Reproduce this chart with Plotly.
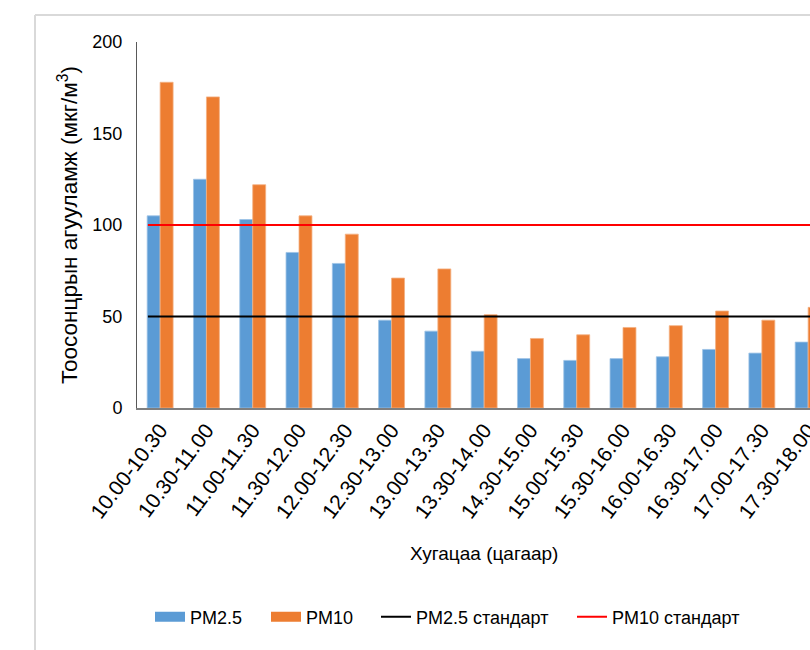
import plotly.graph_objects as go

categories = ["10.00-10.30", "10.30-11.00", "11.00-11.30", "11.30-12.00", "12.00-12.30",
              "12.30-13.00", "13.00-13.30", "13.30-14.00", "14.30-15.00", "15.00-15.30",
              "15.30-16.00", "16.00-16.30", "16.30-17.00", "17.00-17.30", "17.30-18.00"]
pm25 = [105, 125, 103, 85, 79, 48, 42, 31, 27, 26, 27, 28, 32, 30, 36]
pm10 = [178, 170, 122, 105, 95, 71, 76, 51, 38, 40, 44, 45, 53, 48, 55]
pm25_std = [50] * len(categories)
pm10_std = [100] * len(categories)

W, H = 810, 650
L, R, T, B = 137, 0, 42, 242
pw = W - L - R
ph = H - T - B

def px(xp):
    return (xp - L) / pw

def py(yp):
    return (H - B - yp) / ph

FONT = "Liberation Sans, Arial, sans-serif"
BLUE, ORANGE = "#5B9BD5", "#ED7D31"

fig = go.Figure()
fig.add_trace(go.Bar(x=categories, y=pm25, name="PM2.5", marker_color=BLUE,
                     marker_line_color="#9DC3E6", marker_line_width=0.8, showlegend=False))
fig.add_trace(go.Bar(x=categories, y=pm10, name="PM10", marker_color=ORANGE,
                     marker_line_color="#F4B183", marker_line_width=0.8, showlegend=False))
# legend entries for the bar series (wide swatches as in the original)
fig.add_trace(go.Scatter(x=[None], y=[None], name="PM2.5", mode="lines",
                         line=dict(color=BLUE, width=10), legend="legend"))
fig.add_trace(go.Scatter(x=[None], y=[None], name="PM10", mode="lines",
                         line=dict(color=ORANGE, width=10), legend="legend2"))
fig.add_trace(go.Scatter(x=list(range(len(categories))), y=pm25_std, name="PM2.5 стандарт",
                         mode="lines", line=dict(color="black", width=2), xaxis="x2",
                         legend="legend3"))
fig.add_trace(go.Scatter(x=list(range(len(categories))), y=pm10_std, name="PM10 стандарт",
                         mode="lines", line=dict(color="#FF0000", width=2), xaxis="x2",
                         legend="legend4"))

def leg(xpix):
    return dict(orientation="h", x=px(xpix), xanchor="left", y=py(617), yanchor="middle",
                font=dict(size=18, family=FONT), itemwidth=30, bgcolor="rgba(0,0,0,0)")

fig.update_layout(
    width=W, height=H,
    margin=dict(l=L, r=R, t=T, b=B, autoexpand=False),
    paper_bgcolor="white", plot_bgcolor="white",
    font=dict(family=FONT, size=18, color="black"),
    barmode="group", bargap=0.44, bargroupgap=0,
    showlegend=True,
    legend=leg(150), legend2=leg(266), legend3=leg(376), legend4=leg(572),
    xaxis=dict(type="category", range=[-0.5, 14.04], showgrid=False,
               showline=True, linecolor="#7F7F7F", linewidth=1.5,
               tickangle=-53, tickfont=dict(size=21), ticks="", automargin=False),
    xaxis2=dict(overlaying="x", range=[-0.23, 13.94], visible=False),
    yaxis=dict(range=[0, 200], tickvals=[0, 50, 100, 150, 200], showgrid=False,
               showline=True, linecolor="#595959", linewidth=1, ticks="",
               ticklabelstandoff=10, tickfont=dict(size=18), automargin=False,
               title=dict(text="Тоосонцрын агууламж (мкг/м<sup>3</sup>)", font=dict(size=22.5),
                          standoff=8)),
    annotations=[dict(text="Хугацаа (цагаар)", xref="paper", yref="paper",
                      x=px(484), y=py(553), xanchor="center", yanchor="middle",
                      showarrow=False, font=dict(size=19))],
    shapes=[
        dict(type="line", xref="paper", yref="paper", x0=px(35), x1=px(812), y0=py(15), y1=py(15),
             line=dict(color="#D9D9D9", width=2)),
        dict(type="line", xref="paper", yref="paper", x0=px(35), x1=px(35), y0=py(15), y1=py(652),
             line=dict(color="#D9D9D9", width=2)),
    ],
)

fig.write_html("out.html", config={"displayModeBar": False},
               post_script="document.body.style.margin='0';")
